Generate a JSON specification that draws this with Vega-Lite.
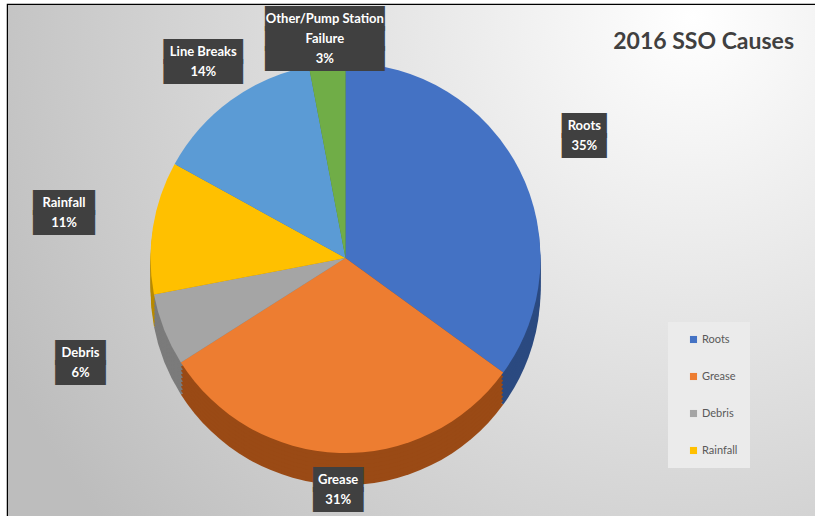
{
  "$schema": "https://vega.github.io/schema/vega-lite/v6.json",
  "width": 815,
  "height": 512,
  "autosize": {"type": "none"},
  "padding": {"left": 8, "top": 5, "right": 0, "bottom": 0},
  "background": "white",
  "config": {"view": {"stroke": "#000000", "strokeWidth": 2.5}, "font": "Lato"},
  "title": {
    "text": "2016 SSO Causes",
    "anchor": "end",
    "orient": "top",
    "font": "Lato",
    "fontSize": 23,
    "fontWeight": "bold",
    "color": "#404040",
    "dx": -29,
    "dy": 53
  },
  "data": {
    "values": [
      {"cause": "Roots", "pct": 35},
      {"cause": "Grease", "pct": 31},
      {"cause": "Debris", "pct": 6},
      {"cause": "Rainfall", "pct": 11},
      {"cause": "Line Breaks", "pct": 14},
      {"cause": "Other/Pump Station\nFailure", "pct": 3}
    ]
  },
  "transform": [
    {"window": [{"op": "row_number", "as": "idx"}]},
    {"calculate": "datum.cause + '\\n' + datum.pct + '%'", "as": "label"},
    {"calculate": "replace(datum.label, regexp('[^\\n]+', 'g'), pad('', length(split(datum.label, '\\n')[0]), '█'))", "as": "box"}
  ],
  "layer": [
    {
      "mark": {
        "type": "rect",
        "fill": {
          "gradient": "radial",
          "x1": 0.84, "y1": 0.2, "r1": 0,
          "x2": 0.84, "y2": 0.2, "r2": 0.95,
          "stops": [
            {"offset": 0, "color": "#FFFFFF"},
            {"offset": 1, "color": "#BDBDBD"}
          ]
        }
      },
      "encoding": {
        "x": {"value": 0},
        "x2": {"value": "width"},
        "y": {"value": 0},
        "y2": {"value": "height"}
      }
    },
    {"mark": {"type": "arc", "radius": 195, "xOffset": -70, "yOffset": 29},
     "encoding": {
       "theta": {"field": "pct", "type": "quantitative", "stack": true},
       "order": {"field": "idx", "type": "quantitative"},
       "fill": {"field": "cause", "type": "nominal", "legend": null,
         "scale": {"range": ["#7B7B7B", "#9A4A15", "#3F6E99", "#4F7F31", "#B88A00", "#2B4A80"]}}}},
    {"mark": {"type": "arc", "radius": 195, "xOffset": -70, "yOffset": 25},
     "encoding": {
       "theta": {"field": "pct", "type": "quantitative", "stack": true},
       "order": {"field": "idx", "type": "quantitative"},
       "fill": {"field": "cause", "type": "nominal", "legend": null}}},
    {"mark": {"type": "arc", "radius": 195, "xOffset": -70, "yOffset": 21},
     "encoding": {
       "theta": {"field": "pct", "type": "quantitative", "stack": true},
       "order": {"field": "idx", "type": "quantitative"},
       "fill": {"field": "cause", "type": "nominal", "legend": null}}},
    {"mark": {"type": "arc", "radius": 195, "xOffset": -70, "yOffset": 17},
     "encoding": {
       "theta": {"field": "pct", "type": "quantitative", "stack": true},
       "order": {"field": "idx", "type": "quantitative"},
       "fill": {"field": "cause", "type": "nominal", "legend": null}}},
    {"mark": {"type": "arc", "radius": 195, "xOffset": -70, "yOffset": 13},
     "encoding": {
       "theta": {"field": "pct", "type": "quantitative", "stack": true},
       "order": {"field": "idx", "type": "quantitative"},
       "fill": {"field": "cause", "type": "nominal", "legend": null}}},
    {"mark": {"type": "arc", "radius": 195, "xOffset": -70, "yOffset": 9},
     "encoding": {
       "theta": {"field": "pct", "type": "quantitative", "stack": true},
       "order": {"field": "idx", "type": "quantitative"},
       "fill": {"field": "cause", "type": "nominal", "legend": null}}},
    {"mark": {"type": "arc", "radius": 195, "xOffset": -70, "yOffset": 5},
     "encoding": {
       "theta": {"field": "pct", "type": "quantitative", "stack": true},
       "order": {"field": "idx", "type": "quantitative"},
       "fill": {"field": "cause", "type": "nominal", "legend": null}}},
    {"mark": {"type": "arc", "radius": 195, "xOffset": -70, "yOffset": 1},
     "encoding": {
       "theta": {"field": "pct", "type": "quantitative", "stack": true},
       "order": {"field": "idx", "type": "quantitative"},
       "fill": {"field": "cause", "type": "nominal", "legend": null}}},
    {"mark": {"type": "arc", "radius": 195, "xOffset": -70, "yOffset": -3},
     "encoding": {
       "theta": {"field": "pct", "type": "quantitative", "stack": true},
       "order": {"field": "idx", "type": "quantitative"},
       "color": {"field": "cause", "type": "nominal",
         "scale": {"domain": ["Roots", "Grease", "Debris", "Rainfall", "Line Breaks", "Other/Pump Station\nFailure"],
                   "range": ["#4472C4", "#ED7D31", "#A5A5A5", "#FFC000", "#5B9BD5", "#70AD47"]},
         "legend": {
           "orient": "none", "legendX": 660, "legendY": 317, "zindex": 1,
           "values": ["Roots", "Grease", "Debris", "Rainfall"],
           "title": null, "fillColor": "#EBEBEB", "padding": 12, "rowPadding": 25,
           "symbolType": "square", "symbolSize": 50, "symbolStrokeWidth": 0, "symbolOffset": 8,
           "labelFont": "Lato", "labelFontSize": 11, "labelColor": "#595959", "labelOffset": 3
         }}}},

    {"mark": {"type": "text", "clip": true, "radius": 268, "xOffset": -70, "yOffset": -3, "dy": -10, "font": "DejaVu Sans", "fontSize": 7.5,
              "lineBreak": "\n", "lineHeight": 20, "fill": "#404040", "stroke": "#404040", "strokeWidth": 16, "strokeJoin": "miter"},
     "encoding": {
       "theta": {"field": "pct", "type": "quantitative", "stack": true},
       "order": {"field": "idx", "type": "quantitative"},
       "text": {"field": "box"},
       "opacity": {"condition": {"test": "datum.cause == 'Roots'", "value": 1}, "value": 0}}},
    {"mark": {"type": "text", "clip": true, "radius": 268, "xOffset": -70, "yOffset": -3, "dy": -10, "font": "Lato", "fontSize": 13, "fontWeight": "bold",
              "lineBreak": "\n", "lineHeight": 20, "fill": "#FFFFFF"},
     "encoding": {
       "theta": {"field": "pct", "type": "quantitative", "stack": true},
       "order": {"field": "idx", "type": "quantitative"},
       "text": {"field": "label"},
       "opacity": {"condition": {"test": "datum.cause == 'Roots'", "value": 1}, "value": 0}}},

    {"mark": {"type": "text", "clip": true, "radius": 285, "xOffset": -70, "yOffset": -3, "dy": -10, "font": "DejaVu Sans", "fontSize": 7.5,
              "lineBreak": "\n", "lineHeight": 20, "fill": "#404040", "stroke": "#404040", "strokeWidth": 16, "strokeJoin": "miter"},
     "encoding": {
       "theta": {"field": "pct", "type": "quantitative", "stack": true},
       "order": {"field": "idx", "type": "quantitative"},
       "text": {"field": "box"},
       "opacity": {"condition": {"test": "datum.cause == 'Rainfall' || datum.cause == 'Debris'", "value": 1}, "value": 0}}},
    {"mark": {"type": "text", "clip": true, "radius": 285, "xOffset": -70, "yOffset": -3, "dy": -10, "font": "Lato", "fontSize": 13, "fontWeight": "bold",
              "lineBreak": "\n", "lineHeight": 20, "fill": "#FFFFFF"},
     "encoding": {
       "theta": {"field": "pct", "type": "quantitative", "stack": true},
       "order": {"field": "idx", "type": "quantitative"},
       "text": {"field": "label"},
       "opacity": {"condition": {"test": "datum.cause == 'Rainfall' || datum.cause == 'Debris'", "value": 1}, "value": 0}}},

    {"mark": {"type": "text", "clip": true, "radius": 242, "xOffset": -70, "yOffset": -3, "dy": -10, "font": "DejaVu Sans", "fontSize": 7.5,
              "lineBreak": "\n", "lineHeight": 20, "fill": "#404040", "stroke": "#404040", "strokeWidth": 16, "strokeJoin": "miter"},
     "encoding": {
       "theta": {"field": "pct", "type": "quantitative", "stack": true},
       "order": {"field": "idx", "type": "quantitative"},
       "text": {"field": "box"},
       "opacity": {"condition": {"test": "datum.cause == 'Line Breaks'", "value": 1}, "value": 0}}},
    {"mark": {"type": "text", "clip": true, "radius": 242, "xOffset": -70, "yOffset": -3, "dy": -10, "font": "Lato", "fontSize": 13, "fontWeight": "bold",
              "lineBreak": "\n", "lineHeight": 20, "fill": "#FFFFFF"},
     "encoding": {
       "theta": {"field": "pct", "type": "quantitative", "stack": true},
       "order": {"field": "idx", "type": "quantitative"},
       "text": {"field": "label"},
       "opacity": {"condition": {"test": "datum.cause == 'Line Breaks'", "value": 1}, "value": 0}}},

    {"mark": {"type": "text", "clip": true, "radius": 232, "xOffset": -70, "yOffset": -3, "dy": -10, "font": "DejaVu Sans", "fontSize": 7.5,
              "lineBreak": "\n", "lineHeight": 20, "fill": "#404040", "stroke": "#404040", "strokeWidth": 16, "strokeJoin": "miter"},
     "encoding": {
       "theta": {"field": "pct", "type": "quantitative", "stack": true},
       "order": {"field": "idx", "type": "quantitative"},
       "text": {"field": "box"},
       "opacity": {"condition": {"test": "datum.cause == 'Grease'", "value": 1}, "value": 0}}},
    {"mark": {"type": "text", "clip": true, "radius": 232, "xOffset": -70, "yOffset": -3, "dy": -10, "font": "Lato", "fontSize": 13, "fontWeight": "bold",
              "lineBreak": "\n", "lineHeight": 20, "fill": "#FFFFFF"},
     "encoding": {
       "theta": {"field": "pct", "type": "quantitative", "stack": true},
       "order": {"field": "idx", "type": "quantitative"},
       "text": {"field": "label"},
       "opacity": {"condition": {"test": "datum.cause == 'Grease'", "value": 1}, "value": 0}}},

    {"mark": {"type": "text", "clip": true, "radius": 220, "xOffset": -70, "yOffset": -3, "dy": -20, "font": "DejaVu Sans", "fontSize": 7.5,
              "lineBreak": "\n", "lineHeight": 20, "fill": "#404040", "stroke": "#404040", "strokeWidth": 16, "strokeJoin": "miter"},
     "encoding": {
       "theta": {"field": "pct", "type": "quantitative", "stack": true},
       "order": {"field": "idx", "type": "quantitative"},
       "text": {"field": "box"},
       "opacity": {"condition": {"test": "datum.pct < 4", "value": 1}, "value": 0}}},
    {"mark": {"type": "text", "clip": true, "radius": 220, "xOffset": -70, "yOffset": -3, "dy": -20, "font": "Lato", "fontSize": 13, "fontWeight": "bold",
              "lineBreak": "\n", "lineHeight": 20, "fill": "#FFFFFF"},
     "encoding": {
       "theta": {"field": "pct", "type": "quantitative", "stack": true},
       "order": {"field": "idx", "type": "quantitative"},
       "text": {"field": "label"},
       "opacity": {"condition": {"test": "datum.pct < 4", "value": 1}, "value": 0}}}
  ]
}
